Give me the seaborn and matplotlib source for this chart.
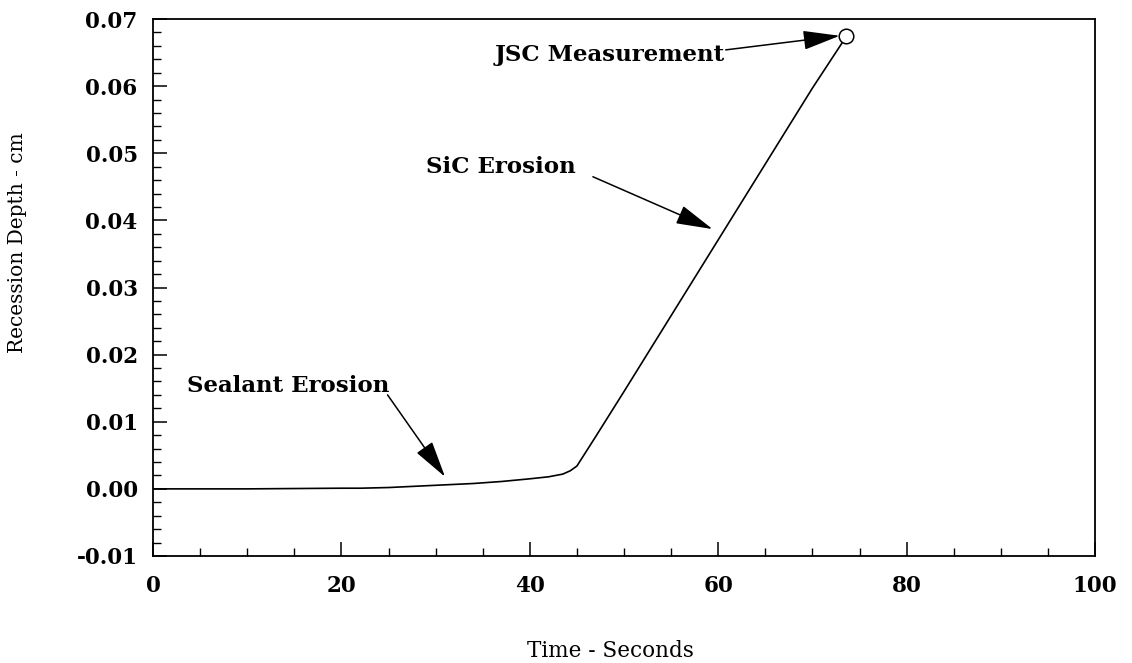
import numpy as np
import pandas as pd
import matplotlib
matplotlib.use("Agg")
import matplotlib.pyplot as plt
import seaborn as sns
from matplotlib.ticker import MultipleLocator, FormatStrFormatter

# ---- data ----
time_s = [0, 10, 20, 22, 25, 28, 31, 34, 37, 40, 42, 43.5, 44.3, 45.0,
          47, 50, 55, 60, 65, 70, 73.6]
depth_cm = [0.0, 0.0, 0.0001, 0.0001, 0.0002, 0.0004, 0.0006, 0.0008, 0.0011,
            0.0015, 0.0018, 0.0022, 0.0027, 0.0034,
            0.0078, 0.0145, 0.0258, 0.0371, 0.0484, 0.0597, 0.0674]
meas_time = [73.6]
meas_depth = [0.0674]

annot_labels = ["JSC Measurement", "SiC Erosion", "Sealant Erosion"]
annot_text_xy = [(48.5, 0.0647), (36.9, 0.0480), (14.4, 0.0153)]
annot_tail_xy = [(60.8, 0.0654), (46.7, 0.0465), (24.9, 0.0140)]
annot_head_xy = [(72.9, 0.0675), (59.4, 0.0387), (31.0, 0.0018)]

x_ticks = [0, 20, 40, 60, 80, 100]
y_ticks = [-0.01, 0.0, 0.01, 0.02, 0.03, 0.04, 0.05, 0.06, 0.07]

sns.set_theme(style="white")
plt.rcParams["font.family"] = ["DejaVu Serif"]
plt.rcParams["axes.unicode_minus"] = False

fig = plt.figure(figsize=(11.32, 6.63), dpi=100)
ax = fig.add_axes([153 / 1132, 1 - 556 / 663, (1095 - 153) / 1132, (556 - 19) / 663])

df = pd.DataFrame({"t": time_s, "d": depth_cm})
sns.lineplot(data=df, x="t", y="d", ax=ax, color="black", linewidth=1.2)
sns.scatterplot(x=meas_time, y=meas_depth, ax=ax, marker="o", s=110,
                facecolor="white", edgecolor="black", linewidth=1.1, zorder=5)

ax.set_xlim(0, 100)
ax.set_ylim(-0.01, 0.07)
ax.set_xticks(x_ticks)
ax.set_yticks(y_ticks)
ax.xaxis.set_minor_locator(MultipleLocator(5))
ax.yaxis.set_minor_locator(MultipleLocator(0.002))
ax.yaxis.set_major_formatter(FormatStrFormatter("%.2f"))
ax.xaxis.set_major_formatter(FormatStrFormatter("%d"))

ax.tick_params(axis="both", which="both", direction="in", left=True, bottom=True,
               top=False, right=False, color="black")
ax.tick_params(axis="both", which="major", length=10, width=1.1)
ax.tick_params(axis="both", which="minor", length=6, width=1.0)
ax.tick_params(axis="x", which="major", pad=14)
ax.tick_params(axis="y", which="major", pad=11)
for lab in ax.get_xticklabels() + ax.get_yticklabels():
    lab.set_fontsize(15.5)
    lab.set_fontweight("bold")
    lab.set_color("black")

for sp in ax.spines.values():
    sp.set_color("black")
    sp.set_linewidth(1.3)
    sp.set_visible(True)

ax.set_xlabel("Time - Seconds", fontsize=15.5, color="black")
ax.set_ylabel("Recession Depth - cm", fontsize=14.5, color="black")
ax.xaxis.set_label_coords((610 - 153) / 942, (556 - 640) / 537)
ax.yaxis.set_label_coords((27 - 153) / 942, (556 - 243) / 537)

for lab, txy, tail, head in zip(annot_labels, annot_text_xy, annot_tail_xy, annot_head_xy):
    ax.text(txy[0], txy[1], lab, ha="center", va="center", fontsize=16.5,
            fontweight="bold", color="black")
    ax.annotate("", xy=head, xytext=tail,
                arrowprops=dict(arrowstyle="-|>,head_length=1.15,head_width=0.3",
                                color="black", lw=1.1, mutation_scale=20,
                                shrinkA=0, shrinkB=0))

fig.savefig("out.png", dpi=100, facecolor="white")
